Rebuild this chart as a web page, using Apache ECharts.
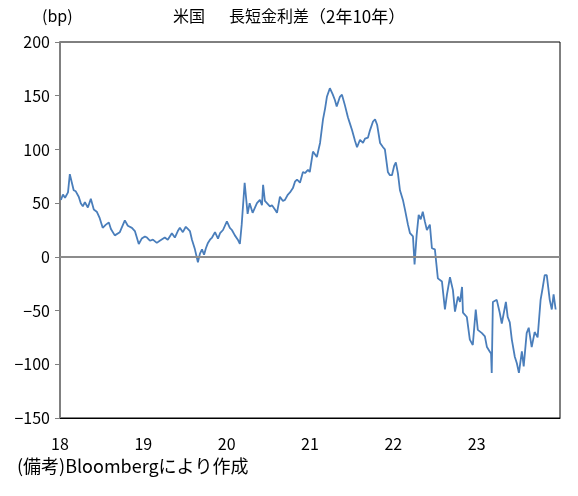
<!DOCTYPE html>
<html><head><meta charset="utf-8">
<script src="https://cdn.jsdelivr.net/npm/echarts@6/dist/echarts.min.js"></script>
<style>html,body{margin:0;padding:0;background:#fff}#c{width:578px;height:496px}</style>
</head><body><div id="c"></div>
<script>
// US 10y-2y yield spread (bp)
const dates2018 = ['2018-01-05','2018-01-14','2018-01-23','2018-02-05','2018-02-13','2018-02-22','2018-03-02','2018-03-11','2018-03-24','2018-04-02','2018-04-11','2018-04-20','2018-05-03','2018-05-16','2018-05-29','2018-06-11','2018-06-24','2018-07-07','2018-07-21','2018-08-03','2018-08-12','2018-08-29','2018-09-20','2018-10-12','2018-10-25','2018-11-12','2018-11-25','2018-12-12','2018-12-25'];
const values2018 = [53,58,55,60,77,69,62,61,56,50,47,51,46,54,44,42,36,27,30,32,26,20,23,34,29,27,24,12,17];
const dates2019 = ['2019-01-08','2019-01-17','2019-01-30','2019-02-12','2019-03-01','2019-03-14','2019-04-05','2019-04-18','2019-05-06','2019-05-19','2019-06-01','2019-06-10','2019-06-23','2019-07-06','2019-07-15','2019-07-24','2019-08-02','2019-08-15','2019-08-28','2019-09-06','2019-09-15','2019-09-24','2019-10-02','2019-10-11','2019-10-20','2019-10-29','2019-11-11','2019-11-24','2019-12-03','2019-12-16'];
const values2019 = [19,18,15,16,13,15,18,16,22,18,24,27,23,28,26,24,16,7,-5,3,7,2,8,13,16,18,23,17,22,25];
const dates2020 = ['2020-01-02','2020-01-15','2020-01-24','2020-02-06','2020-02-19','2020-02-28','2020-03-07','2020-03-20','2020-04-02','2020-04-11','2020-04-24','2020-05-13','2020-05-26','2020-06-04','2020-06-09','2020-06-17','2020-06-26','2020-07-09','2020-07-18','2020-07-31','2020-08-09','2020-08-22','2020-09-04','2020-09-13','2020-09-26','2020-10-05','2020-10-18','2020-10-27','2020-11-05','2020-11-18','2020-12-01','2020-12-10','2020-12-23','2020-12-31'];
const values2020 = [33,27,25,20,16,12,30,69,40,50,41,50,53,48,67,52,50,47,48,44,41,56,52,53,58,60,64,70,72,69,79,78,81,79];
const dates2021 = ['2021-01-14','2021-01-31','2021-02-14','2021-02-27','2021-03-08','2021-03-16','2021-03-29','2021-04-11','2021-04-20','2021-04-28','2021-05-12','2021-05-21','2021-06-03','2021-06-16','2021-06-25','2021-07-04','2021-07-17','2021-07-26','2021-08-08','2021-08-21','2021-08-30','2021-09-12','2021-09-21','2021-10-04','2021-10-13','2021-10-22','2021-11-04','2021-11-17','2021-11-25','2021-12-08','2021-12-17','2021-12-26'];
const values2021 = [98,93,106,128,138,149,157,151,146,140,149,151,141,130,124,118,108,102,109,106,110,111,118,126,128,123,106,102,100,79,76,76];
const dates2022 = ['2022-01-05','2022-01-12','2022-01-21','2022-01-30','2022-02-12','2022-02-21','2022-03-06','2022-03-15','2022-03-28','2022-04-04','2022-04-13','2022-04-22','2022-05-01','2022-05-10','2022-05-19','2022-05-28','2022-06-10','2022-06-19','2022-07-02','2022-07-15','2022-08-02','2022-08-15','2022-08-24','2022-09-06','2022-09-19','2022-09-28','2022-10-11','2022-10-20','2022-10-29','2022-11-02','2022-11-19','2022-12-02','2022-12-15','2022-12-28'];
const values2022 = [85,88,78,62,53,44,30,22,19,-7,20,39,35,42,33,25,30,8,7,-20,-23,-49,-35,-19,-31,-51,-37,-42,-28,-52,-56,-77,-82,-49];
const dates2023 = ['2023-01-06','2023-01-24','2023-02-06','2023-02-15','2023-02-27','2023-03-05','2023-03-08','2023-03-13','2023-03-30','2023-04-12','2023-04-21','2023-05-09','2023-05-17','2023-05-26','2023-06-04','2023-06-17','2023-06-26','2023-07-05','2023-07-18','2023-07-26','2023-08-08','2023-08-17','2023-08-30','2023-09-12','2023-09-25','2023-10-08','2023-10-17','2023-10-26','2023-11-04','2023-11-17','2023-11-26','2023-12-04','2023-12-13'];
const values2023 = [-68,-71,-74,-84,-88,-90,-108,-42,-40,-52,-62,-42,-56,-61,-77,-93,-99,-108,-88,-102,-71,-66,-84,-70,-75,-40,-29,-17,-17,-40,-49,-35,-49];

const yearTicks = ['18','19','20','21','22','23'];
const titleParts = ['米国', '長短金利差', '（2年10年）'];
const unitText = '(bp)';
const noteText = '(備考)Bloombergにより作成';

const allDates = [].concat(dates2018, dates2019, dates2020, dates2021, dates2022, dates2023);
const allValues = [].concat(values2018, values2019, values2020, values2021, values2022, values2023);

function toYear(s) {
  const p = s.split('-').map(Number);
  const t0 = Date.UTC(p[0], 0, 1), t1 = Date.UTC(p[0] + 1, 0, 1);
  return p[0] + (Date.UTC(p[0], p[1] - 1, p[2]) - t0) / (t1 - t0);
}
const seriesData = allDates.map((d, i) => [toYear(d), allValues[i]]);

const FONT = '"Noto Sans CJK JP", sans-serif';
const chart = echarts.init(document.getElementById('c'), null, {renderer: 'canvas'});
chart.setOption({
  animation: false,
  backgroundColor: '#fff',
  grid: {left: 60, right: 18, top: 42, bottom: 78, show: true, borderColor: '#000', borderWidth: 1, containLabel: false},
  xAxis: {
    type: 'value', min: 2018, max: 2024, interval: 1,
    axisLine: {show: true, onZero: false, lineStyle: {color: '#000', width: 1}},
    axisTick: {show: false},
    splitLine: {show: false},
    axisLabel: {
      fontSize: 16, color: '#000', fontFamily: FONT, margin: 18,
      formatter: v => { const i = Math.round(v - 2018); return yearTicks[i] !== undefined ? yearTicks[i] : ''; }
    }
  },
  yAxis: {
    type: 'value', min: -150, max: 200, interval: 50,
    axisLine: {show: true, lineStyle: {color: '#808080', width: 2}},
    axisTick: {show: true, inside: false, length: 5, lineStyle: {color: '#808080', width: 1}},
    splitLine: {show: false},
    axisLabel: {
      fontSize: 16, color: '#000', fontFamily: FONT, margin: 10,
      formatter: v => v < 0 ? '\u2212' + (-v) : String(v)
    }
  },
  series: [{
    type: 'line', data: seriesData, showSymbol: false, symbol: 'none',
    lineStyle: {color: '#4a7ebb', width: 1.8}, itemStyle: {color: '#4a7ebb'},
    markLine: {
      silent: true, symbol: 'none', label: {show: false},
      lineStyle: {color: '#8c8c8c', width: 2, type: 'solid'},
      data: [{yAxis: 0}]
    },
    z: 3
  }],
  graphic: [
    {type: 'text', left: 42, top: 8, style: {text: unitText, font: '16px ' + FONT, fill: '#000'}},
    {type: 'text', left: 173, top: 8, style: {text: titleParts[0], font: '16px ' + FONT, fill: '#000'}},
    {type: 'text', left: 229, top: 8, style: {text: titleParts[1], font: '16px ' + FONT, fill: '#000'}},
    {type: 'text', left: 309, top: 8, style: {text: titleParts[2], font: '17px ' + FONT, fill: '#000'}},
    {type: 'text', left: 17, top: 457, style: {text: noteText, font: '18px ' + FONT, fill: '#000'}}
  ]
});
</script></body></html>
